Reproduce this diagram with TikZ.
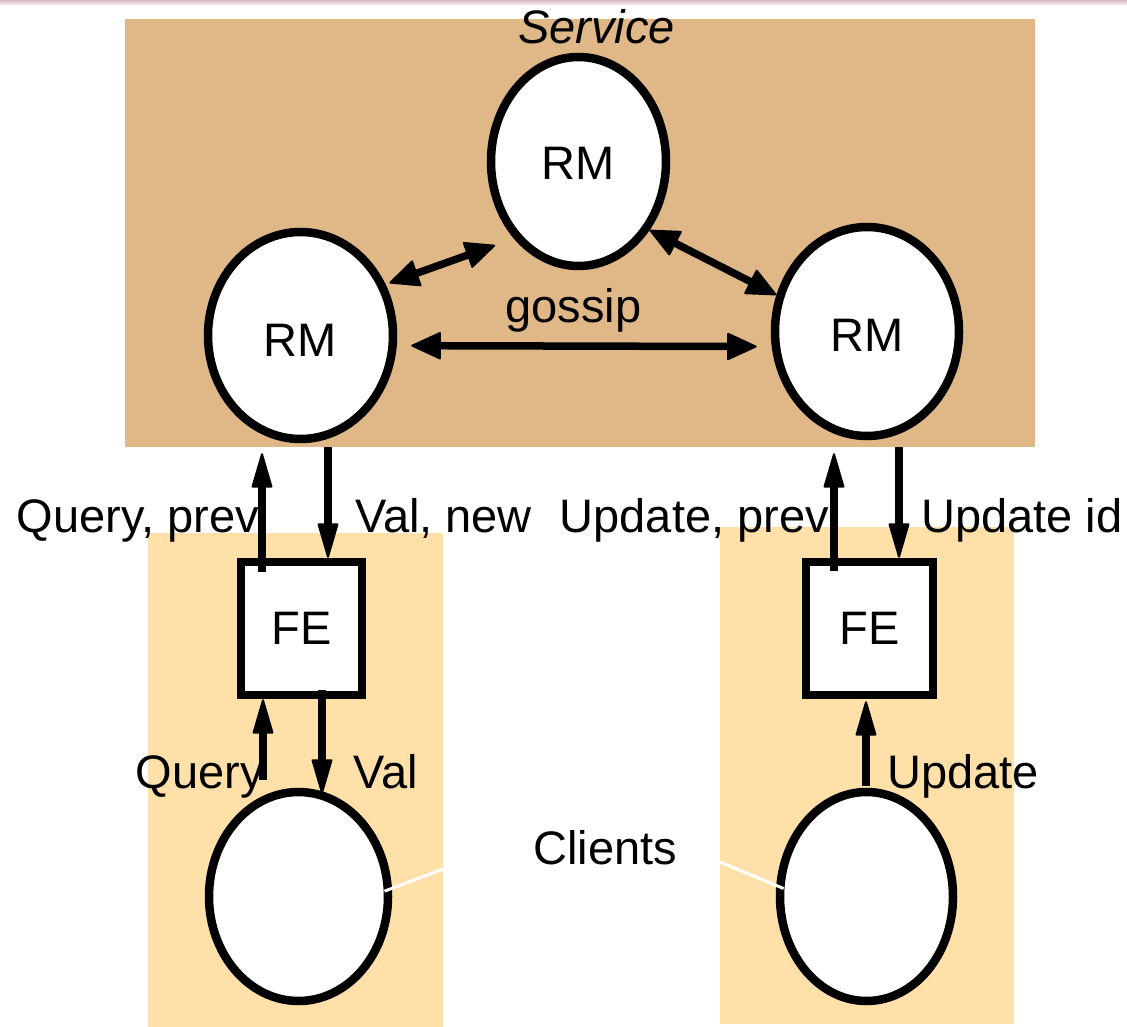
\documentclass[tikz,border=0pt]{standalone}
\usepackage{fontspec}
\setmainfont{Liberation Sans}
\usetikzlibrary{arrows.meta,shapes.geometric}
\definecolor{tanc}{RGB}{224,184,135}
\definecolor{lightc}{RGB}{255,224,168}
\definecolor{pinkc}{RGB}{222,185,192}
\newcommand\dfont{\fontsize{47pt}{56pt}\selectfont}
\begin{document}
\begin{tikzpicture}[x=1pt,y=-1pt,
  ell/.style={draw, ellipse, line width=8.5pt, fill=white, inner sep=0pt, font=\dfont},
  febox/.style={draw, rectangle, line width=8.5pt, fill=white, minimum width=121pt, minimum height=133pt, inner sep=0pt, font=\dfont},
  lab/.style={font=\dfont, inner sep=0pt},
  varr/.style={line width=7.5pt, >={Triangle[length=37pt,width=21pt,line width=2pt,round]}, ->},
  garr/.style={line width=7.5pt, >={Triangle[length=31pt,width=28pt,line width=2pt,round]}, <->},
  wline/.style={draw=white, line width=3pt}]
\useasboundingbox (0,0) rectangle (1127,1027);
\fill[white] (0,0) rectangle (1127,1027);
\shade[top color=pinkc, bottom color=white] (0,0) rectangle (1127,6);
% backgrounds
\fill[tanc] (125,19) rectangle (1035,447);
\fill[lightc] (148,533) rectangle (443,1027);
\fill[lightc] (720,527) rectangle (1014,1024);
% nodes
\node[lab, font=\dfont\itshape, anchor=base] (svc) at (596.5,44) {Service};
\node[ell, minimum width=175pt, minimum height=209pt] (rmT) at (578.5,161.5) {\raisebox{-2pt}[\height][\depth]{RM}};
\node[ell, minimum width=185pt, minimum height=207pt] (rmL) at (300.5,335.5) {\raisebox{-5pt}[\height][\depth]{RM}};
\node[ell, minimum width=184pt, minimum height=209pt] (rmR) at (867,331.5) {\raisebox{-3.5pt}[\height][\depth]{RM}};
\node[febox] (feL) at (301.5,628.5) {FE};
\node[febox, minimum width=127pt] (feR) at (869.5,628.5) {FE};
\node[ell, minimum width=179pt, minimum height=209pt] (cL) at (298.5,896.5) {};
\node[ell, minimum width=173pt, minimum height=209pt] (cR) at (866.5,896.5) {};
% gossip arrows
\draw[garr, shorten <=4pt, shorten >=20pt] (rmL.31.7) -- (rmT.230);
\draw[garr] (rmT.316.4) -- (rmR.158.7);
\draw[garr, shorten <=14.5pt, shorten >=15pt] (rmL.-6.2) -- (rmR.189);
\node[lab, anchor=base] (gos) at (573.5,322) {gossip};
% RM <-> FE arrows
\coordinate (aL1) at ([xshift=-39.5pt]feL.north);
\coordinate (aL2) at ([xshift=26.5pt]feL.north);
\coordinate (aR1) at ([xshift=-35.5pt]feR.north);
\coordinate (aR2) at ([xshift=29.5pt]feR.north);
\draw[varr, shorten <=-14pt, shorten >=10pt] (aL1) -- (aL1 |- rmL.south);
\draw[varr, shorten <=4pt] (aL2 |- rmL.south) -- (aL2);
\draw[varr, shorten <=-13pt, shorten >=13pt] (aR1) -- (aR1 |- rmR.south);
\draw[varr, shorten <=7pt] (aR2 |- rmR.south) -- (aR2);
% FE <-> client arrows
\coordinate (bL1) at ([xshift=-38.5pt]feL.south);
\coordinate (bL2) at ([xshift=20.5pt]feL.south);
\coordinate (bR1) at ([xshift=-3.5pt]feR.south);
\draw[varr, shorten <=8pt] (bL1 |- cL.north) -- (bL1);
\draw[varr, shorten <=-9pt, shorten >=-6pt] (bL2) -- (bL2 |- cL.north);
\draw[varr, shorten <=2pt, shorten >=2pt] (bR1 |- cR.north) -- (bR1);
% labels
\node[lab, anchor=base east] (lqp) at (259,532) {Query, prev};
\node[lab, anchor=base west] (lvn) at (355,532) {Val, new};
\node[lab, anchor=base east] (lup) at (829,532) {Update, prev};
\node[lab, anchor=base west] (lui) at (921,532) {Update id};
\node[lab, anchor=base east] (lq) at (264,788) {Query};
\node[lab, anchor=base west] (lv) at (353,788) {Val};
\node[lab, anchor=base west] (lu) at (887,788) {Update};
\node[lab, anchor=base west] (lcl) at (533,864) {Clients};
% white pointer lines
\coordinate (wl1) at (443,869);
\coordinate (wl2) at (720,862);
\draw[wline, shorten <=-8pt] (cL.5) -- (wl1);
\draw[wline, shorten <=-8pt] (cR.173.4) -- (wl2);
\end{tikzpicture}
\end{document}
